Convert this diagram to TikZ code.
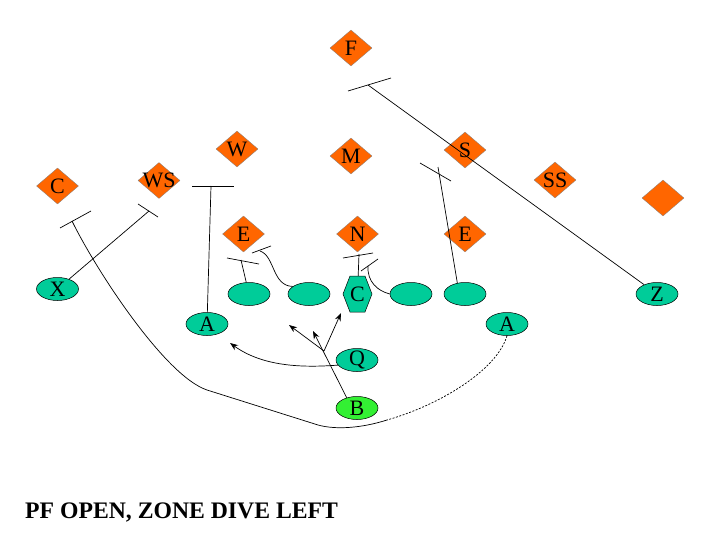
\documentclass[tikz,border=0pt]{standalone}
\usepackage{fontspec}
\setmainfont{Liberation Serif}
\usetikzlibrary{shapes.geometric,arrows.meta}
\definecolor{dorange}{RGB}{255,102,0}
\definecolor{oteal}{RGB}{0,204,153}
\definecolor{bgreen}{RGB}{51,240,51}
\begin{document}
\begin{tikzpicture}[x=1pt,y=-1pt,
  dia/.style={diamond, fill=dorange, draw=black!50, line width=0.3pt, minimum width=42pt, minimum height=36pt, inner sep=0pt},
  ell/.style={ellipse, fill=oteal, draw=black, line width=0.5pt, minimum width=42pt, minimum height=23pt, inner sep=0pt},
  lbl/.style={font=\fontsize{22}{22}\selectfont, inner sep=0pt, text=black},
  rt/.style={line width=0.7pt},
  arr/.style={rt, -{Stealth[length=8pt,width=6pt]}}
]
\useasboundingbox[fill=white] (0,0) rectangle (720,540);

% defense
\node[dia, label={[lbl]center:F}] (f) at (351,48) {};
\node[dia, label={[lbl]center:W}] (w) at (237,149) {};
\node[dia, label={[lbl]center:M}] (m) at (351,156) {};
\node[dia, label={[lbl]center:S}] (s) at (465,150) {};
\node[dia, label={[lbl]center:C}] (cb) at (57.5,186) {};
\node[dia, label={[lbl]center:WS}] (ws) at (159,180.5) {};
\node[dia, label={[lbl]center:SS}] (ss) at (555,180) {};
\node[dia] (blank) at (663,198) {};
\node[dia, label={[lbl]center:E}] (el) at (243.5,234) {};
\node[dia, label={[lbl]center:N}] (n) at (357.5,234) {};
\node[dia, label={[lbl]center:E}] (er) at (465,234) {};

% offense
\node[ell, label={[lbl]center:X}] (x) at (57.5,289) {};
\node[ell] (l1) at (249,294) {};
\node[ell] (l2) at (309,294) {};
\filldraw[fill=oteal, draw=black, line width=0.5pt] (343,294) -- (350,276) -- (365,276) -- (372,294) -- (365,312) -- (350,312) -- cycle;
\node[minimum width=30pt, minimum height=36pt, inner sep=0pt, label={[lbl]center:C}] (c) at (357.5,294) {};
\node[ell] (l4) at (411,294) {};
\node[ell] (l5) at (465,294) {};
\node[ell, label={[lbl]center:Z}] (z) at (657,294) {};
\node[ell, label={[lbl]center:A}] (al) at (207,324) {};
\node[ell, label={[lbl]center:A}] (ar) at (507,324) {};
\node[ell, label={[lbl]center:Q}] (q) at (357,360) {};
\node[ell, fill=bgreen, label={[lbl]center:B}] (b) at (357,408) {};

% route end coordinates
\coordinate (xe) at (149,211);
\coordinate (xb1) at (138,204); \coordinate (xb2) at (158,217);
\coordinate (ae) at (211,186);
\coordinate (ab1) at (192,186); \coordinate (ab2) at (234,186);
\coordinate (l1e) at (241,260);
\coordinate (l1b1) at (227,258); \coordinate (l1b2) at (259,264);
\coordinate (l2e) at (260,251);
\coordinate (l2b1) at (252,253); \coordinate (l2b2) at (271,246);
\coordinate (ce) at (359,254);
\coordinate (cb1) at (343,258); \coordinate (cb2) at (373,253);
\coordinate (l4e) at (368,266);
\coordinate (l4b1) at (361,271); \coordinate (l4b2) at (378,259);
\coordinate (l5e) at (438,167);
\coordinate (l5b1) at (420,163); \coordinate (l5b2) at (451,181);
\coordinate (ze) at (368,85);
\coordinate (zb1) at (348,91); \coordinate (zb2) at (391,78);
\coordinate (m1) at (387,420);
\coordinate (m2) at (318,425);
\coordinate (m3) at (207,390);
\coordinate (re) at (72,221);
\coordinate (rb1) at (60,228); \coordinate (rb2) at (91,211);
\coordinate (qa) at (230,343);
\coordinate (j) at (324,351);
\coordinate (a1) at (313,331);
\coordinate (a2) at (289,325);
\coordinate (a3) at (341,313);

% blocks
\draw[rt] (x) -- (xe); \draw[rt] (xb1) -- (xb2);
\draw[rt] (al) -- (ae); \draw[rt] (ab1) -- (ab2);
\draw[rt] (l1) -- (l1e); \draw[rt] (l1b1) -- (l1b2);
\draw[rt] (l2.155) .. controls (272,286) and (275,256) .. (l2e); \draw[rt] (l2b1) -- (l2b2);
\draw[rt] (c) -- (ce); \draw[rt] (cb1) -- (cb2);
\draw[rt] (l4.west) .. controls (378,291) and (367,282) .. (l4e); \draw[rt] (l4b1) -- (l4b2);
\draw[rt] (l5.125) -- (l5e); \draw[rt] (l5b1) -- (l5b2);
\draw[rt] (z) -- (ze); \draw[rt] (zb1) -- (zb2);

% A motion and route
\draw[rt, dash pattern=on 2pt off 1.5pt] (ar.south) .. controls (497,370) and (440,405) .. (m1);
\draw[rt] (m1) .. controls (362,428) and (336,430) .. (m2) -- (m3)
  .. controls (165,376) and (96,270) .. (re);
\draw[rt] (rb1) -- (rb2);

% backfield
\draw[arr] (q.195) .. controls (300,368) and (262,366) .. (qa);
\draw[arr] (b.135) -- (a1);
\draw[arr] (j) -- (a2);
\draw[arr] (j) -- (a3);

\node[anchor=base west, font=\bfseries\fontsize{23.7}{24}\selectfont, inner sep=0pt] (title) at (25,518) {PF OPEN, ZONE DIVE LEFT};
\end{tikzpicture}
\end{document}
